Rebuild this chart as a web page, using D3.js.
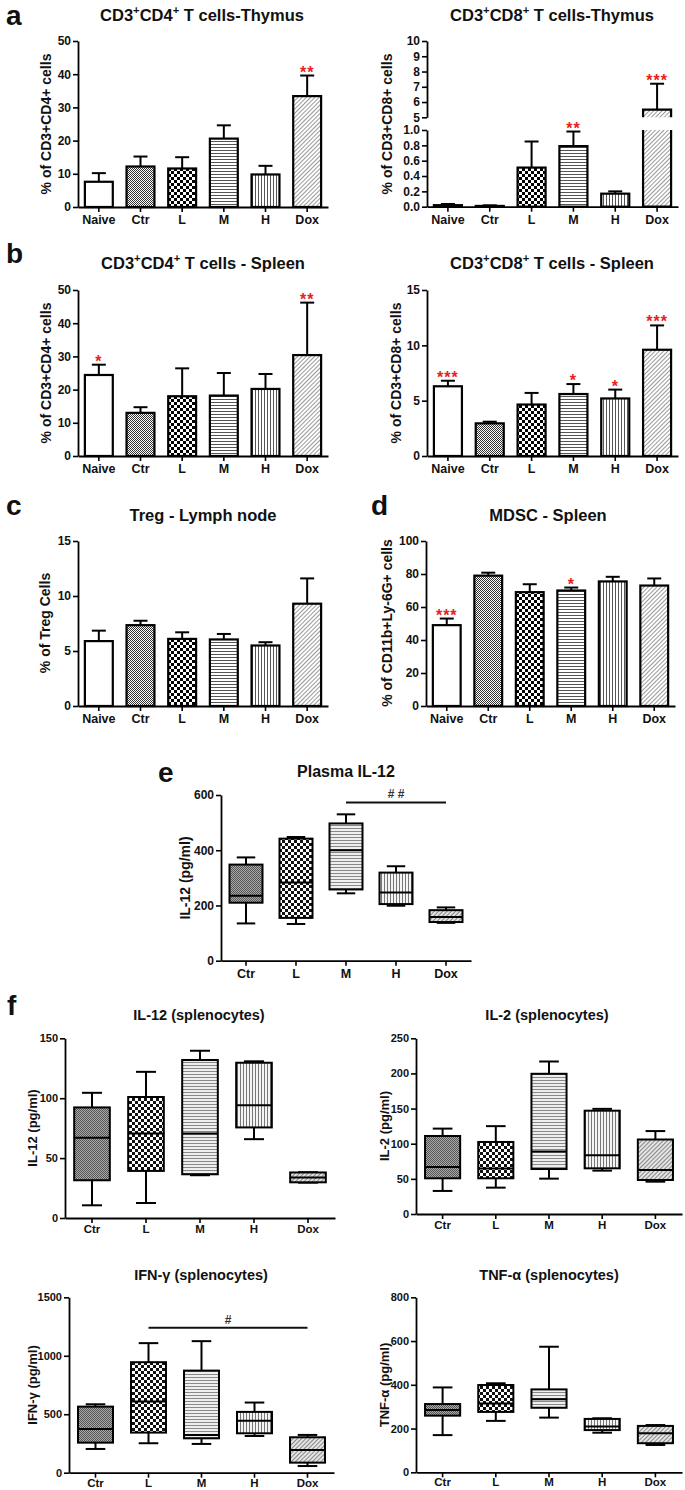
<!DOCTYPE html>
<html><head><meta charset="utf-8">
<script src="https://cdn.jsdelivr.net/npm/d3@7"></script>
<style>
body{margin:0;background:#fff}
svg{display:block}
text{font-family:"Liberation Sans",Arial,sans-serif;font-weight:bold;fill:#111}
</style></head><body>
<svg id="fig" width="685" height="1490"></svg>
<script>
// ---------------- DATA ----------------
const barGroups = ["Naive", "Ctr", "L", "M", "H", "Dox"];
const boxGroups = ["Ctr", "L", "M", "H", "Dox"];

// a: thymus
const thyCD4Mean = [7.6, 12.2, 11.6, 20.6, 9.8, 33.4];
const thyCD4Sem  = [2.6, 3.0, 3.4, 4.0, 2.6, 6.2];
const thyCD4Sig  = ["", "", "", "", "", "**"];
const thyCD8Mean = [0.02, 0.01, 0.51, 0.79, 0.17, 5.5];
const thyCD8Sem  = [0.015, 0.008, 0.34, 0.19, 0.03, 1.7];
const thyCD8Sig  = ["", "", "", "**", "", "***"];
// b: spleen
const splCD4Mean = [24.4, 13.0, 18.0, 18.2, 20.2, 30.4];
const splCD4Sem  = [3.1, 1.7, 8.4, 6.8, 4.5, 15.8];
const splCD4Sig  = ["*", "", "", "", "", "**"];
const splCD8Mean = [6.3, 2.95, 4.65, 5.6, 5.2, 9.6];
const splCD8Sem  = [0.5, 0.15, 1.05, 0.9, 0.8, 2.2];
const splCD8Sig  = ["***", "", "", "*", "*", "***"];
// c: Treg
const tregMean = [5.9, 7.35, 6.1, 6.05, 5.5, 9.3];
const tregSem  = [0.95, 0.4, 0.6, 0.5, 0.3, 2.3];
const tregSig  = ["", "", "", "", "", ""];
// d: MDSC
const mdscMean = [49, 79, 69, 70, 75.5, 73];
const mdscSem  = [4, 1.8, 4.8, 1.8, 2.8, 4.3];
const mdscSig  = ["***", "", "", "*", "", ""];

// tick values
const ticks0to50 = [0, 10, 20, 30, 40, 50];
const ticksLow = [0, 0.2, 0.4, 0.6, 0.8, 1.0];
const ticksHigh = [5, 6, 7, 8, 9, 10];
const ticks0to15 = [0, 5, 10, 15];
const ticks0to100 = [0, 20, 40, 60, 80, 100];
const ticks0to600 = [0, 200, 400, 600];
const ticks0to150 = [0, 50, 100, 150];
const ticks0to250 = [0, 50, 100, 150, 200, 250];
const ticks0to1500 = [0, 500, 1000, 1500];
const ticks0to800 = [0, 200, 400, 600, 800];

// box plots: [min, q1, median, q3, max]
const plasmaIL12 = [[135, 210, 235, 348, 374], [133, 155, 283, 442, 448], [244, 258, 400, 497, 530], [199, 205, 247, 319, 342], [137, 140, 158, 183, 193]];
const splIL12 = [[10.6, 31.5, 67, 92.3, 104.5], [12.5, 39.3, 70.5, 101, 122], [35.7, 36.5, 70.5, 131.9, 139.6], [65.8, 75.6, 94.2, 129.6, 130.8], [29.5, 29.8, 33.8, 38, 38.2]];
const splIL2 = [[32.8, 50.8, 67, 111, 121.5], [37.5, 50.8, 64.6, 102.5, 125], [50.3, 64, 88.8, 199.5, 217], [61.7, 65, 83.6, 147, 149.6], [46, 48.4, 62.7, 106, 118]];
const splIFNg = [[203, 257, 374, 565, 585], [252, 343, 608, 945, 1108], [246, 294, 323, 873, 1125], [314, 337, 445, 520, 600], [57, 86, 194, 303, 323]];
const splTNFa = [[170, 259, 285, 312, 388], [235, 276, 315, 399, 407], [250, 295, 334, 379, 574], [181, 193, 209, 244, 247], [125, 133, 178, 212, 216]];

// significance bars (value level, from group, to group, label)
const plasmaSig = {y: 573, from: "M", to: "Dox", label: "# #"};
const ifnSig = {y: 1240, from: "L", to: "Dox", label: "#"};

// ---------------- DRAW ----------------
const svg = d3.select("#fig");
const defs = svg.append("defs");

function pattern(id, w, h, bg, shapes, rot) {
  const p = defs.append("pattern").attr("id", id).attr("patternUnits", "userSpaceOnUse")
    .attr("width", w).attr("height", h);
  if (rot) p.attr("patternTransform", `rotate(${rot})`);
  p.append("rect").attr("width", w).attr("height", h).attr("fill", bg);
  shapes.forEach(s => p.append("rect").attr("x", s[0]).attr("y", s[1]).attr("width", s[2]).attr("height", s[3]).attr("fill", s[4]));
}
// bar patterns
pattern("pCtr", 2, 2, "#fff", [[0, 0, 1, 1, "#333"], [1, 1, 1, 1, "#333"]]);
pattern("pL", 6, 6, "#fff", [[0, 0, 3, 3, "#000"], [3, 3, 3, 3, "#000"]]);
pattern("pM", 3, 3, "#fff", [[0, 0, 3, 1, "#555"]]);
pattern("pH", 3, 3, "#fff", [[0, 0, 1, 3, "#555"]]);
pattern("pDox", 3, 3, "#fff", [[0, 0, 1, 3, "#999"]], 45);
// box patterns
pattern("bCtr", 2, 2, "#aaa", [[0, 0, 1, 1, "#555"], [1, 1, 1, 1, "#555"]]);
pattern("bL", 6, 6, "#fff", [[0, 0, 3, 3, "#111"], [3, 3, 3, 3, "#111"]]);
pattern("bM", 3, 3, "#eee", [[0, 0, 3, 1, "#888"]]);
pattern("bH", 3, 3, "#f4f4f4", [[0, 0, 1, 3, "#777"]]);
pattern("bDox", 3, 3, "#e4e4e4", [[0, 0, 1, 3, "#888"]], 45);

const barFill = {Naive: "#fff", Ctr: "url(#pCtr)", L: "url(#pL)", M: "url(#pM)", H: "url(#pH)", Dox: "url(#pDox)"};
const boxFill = {Ctr: "url(#bCtr)", L: "url(#bL)", M: "url(#bM)", H: "url(#bH)", Dox: "url(#bDox)"};

function styleAxis(g, fs) {
  g.select(".domain").attr("stroke", "#000").attr("stroke-width", 1.8);
  g.selectAll(".tick line").attr("stroke", "#000").attr("stroke-width", 1.6);
  g.selectAll(".tick text").attr("font-size", fs).attr("fill", "#111")
    .attr("font-family", '"Liberation Sans",Arial,sans-serif').attr("font-weight", "bold");
}

function addTitle(str, x, y, fs) {
  const t = svg.append("text").attr("x", x).attr("y", y).attr("text-anchor", "middle").attr("font-size", fs);
  const parts = str.split(/(\{[^}]*\})/).filter(s => s.length);
  let sup = false;
  parts.forEach(p => {
    if (p.startsWith("{")) {
      t.append("tspan").attr("font-size", fs * 0.68).attr("dy", -fs * 0.4).text(p.slice(1, -1));
      sup = true;
    } else {
      const ts = t.append("tspan").text(p);
      if (sup) { ts.attr("dy", fs * 0.4); sup = false; }
    }
  });
}
function addYLabel(str, x, y, fs) {
  svg.append("text").attr("transform", `translate(${x},${y}) rotate(-90)`)
    .attr("text-anchor", "middle").attr("dominant-baseline", "central")
    .attr("font-size", fs).text(str);
}
function addLetter(str, x, y) {
  svg.append("text").attr("x", x).attr("y", y).attr("font-size", 28).text(str);
}

function barPanel(c) {
  const g = svg.append("g");
  const x = d3.scaleBand().domain(barGroups).range([c.x0, c.x1]).paddingInner(0.33).paddingOuter(0.165);
  const y = d3.scaleLinear().domain(c.domain).range([c.yBot, c.yTop]);
  const bw = x.bandwidth();
  const rows = barGroups.map((k, i) => ({k, m: c.mean[i], e: c.mean[i] + c.sem[i], s: c.sig[i]}));
  g.selectAll("rect.bar").data(rows).join("rect").attr("class", "bar")
    .attr("x", d => x(d.k)).attr("width", bw)
    .attr("y", d => y(d.m)).attr("height", d => y(0) - y(d.m))
    .attr("fill", d => barFill[d.k]).attr("stroke", "#000").attr("stroke-width", 2.2);
  g.selectAll("line.err").data(rows).join("line").attr("class", "err")
    .attr("x1", d => x(d.k) + bw / 2).attr("x2", d => x(d.k) + bw / 2)
    .attr("y1", d => y(d.m)).attr("y2", d => y(d.e))
    .attr("stroke", "#000").attr("stroke-width", 2);
  g.selectAll("line.cap").data(rows).join("line").attr("class", "cap")
    .attr("x1", d => x(d.k) + bw / 2 - 7).attr("x2", d => x(d.k) + bw / 2 + 7)
    .attr("y1", d => y(d.e)).attr("y2", d => y(d.e))
    .attr("stroke", "#000").attr("stroke-width", 2);
  g.selectAll("text.sig").data(rows.filter(d => d.s)).join("text").attr("class", "sig")
    .attr("x", d => x(d.k) + bw / 2).attr("y", d => y(d.e) + 2)
    .attr("text-anchor", "middle").attr("font-size", 16).attr("letter-spacing", 1).style("fill", "#e8211b")
    .text(d => d.s);
  const ya = g.append("g").attr("transform", `translate(${c.x0},0)`)
    .call(d3.axisLeft(y).tickValues(c.ticks).tickSize(5).tickSizeOuter(0).tickPadding(2).tickFormat(d3.format("d")));
  styleAxis(ya, 12);
  const xa = g.append("g").attr("transform", `translate(0,${y(0)})`)
    .call(d3.axisBottom(x).tickSize(5).tickSizeOuter(0).tickPadding(3.5));
  styleAxis(xa, 12.5);
}

function brokenBarPanel(c) {
  const g = svg.append("g");
  const x = d3.scaleBand().domain(barGroups).range([c.x0, c.x1]).paddingInner(0.33).paddingOuter(0.165);
  const yLow = d3.scaleLinear().domain([0, 1]).range([c.yBot, c.yLowTop]);
  const yHigh = d3.scaleLinear().domain([5, 10]).range([c.yHighBot, c.yTop]);
  const bw = x.bandwidth();
  const yv = v => v <= 1 ? yLow(v) : yHigh(v);
  const rows = barGroups.map((k, i) => ({k, m: c.mean[i], e: c.mean[i] + c.sem[i], s: c.sig[i]}));
  rows.forEach(d => {
    const x0 = x(d.k), x1 = x0 + bw;
    if (d.m <= 1) {
      g.append("rect").attr("x", x0).attr("width", bw).attr("y", yLow(d.m)).attr("height", yLow(0) - yLow(d.m))
        .attr("fill", barFill[d.k]).attr("stroke", "#000").attr("stroke-width", 2.2);
    } else {
      g.append("rect").attr("x", x0).attr("width", bw).attr("y", yLow(1)).attr("height", yLow(0) - yLow(1))
        .attr("fill", barFill[d.k]);
      g.append("rect").attr("x", x0).attr("width", bw).attr("y", yHigh(d.m)).attr("height", yHigh(5) - yHigh(d.m))
        .attr("fill", barFill[d.k]);
      g.append("path").attr("d", `M${x0},${yLow(1)}V${yLow(0)}H${x1}V${yLow(1)}`)
        .attr("fill", "none").attr("stroke", "#000").attr("stroke-width", 2.2);
      g.append("path").attr("d", `M${x0},${yHigh(5)}V${yHigh(d.m)}H${x1}V${yHigh(5)}`)
        .attr("fill", "none").attr("stroke", "#000").attr("stroke-width", 2.2);
    }
    const cx = x0 + bw / 2;
    g.append("line").attr("x1", cx).attr("x2", cx).attr("y1", yv(d.m)).attr("y2", yv(d.e)).attr("stroke", "#000").attr("stroke-width", 2);
    g.append("line").attr("x1", cx - 7).attr("x2", cx + 7).attr("y1", yv(d.e)).attr("y2", yv(d.e)).attr("stroke", "#000").attr("stroke-width", 2);
    if (d.s) g.append("text").attr("x", cx).attr("y", yv(d.e) + 2).attr("text-anchor", "middle")
      .attr("font-size", 16).attr("letter-spacing", 1).style("fill", "#e8211b").text(d.s);
  });
  const ya1 = g.append("g").attr("transform", `translate(${c.x0},0)`)
    .call(d3.axisLeft(yLow).tickValues(ticksLow).tickSize(5).tickSizeOuter(0).tickPadding(2).tickFormat(d3.format(".1f")));
  styleAxis(ya1, 12);
  const ya2 = g.append("g").attr("transform", `translate(${c.x0},0)`)
    .call(d3.axisLeft(yHigh).tickValues(ticksHigh).tickSize(5).tickSizeOuter(0).tickPadding(2).tickFormat(d3.format("d")));
  styleAxis(ya2, 12);
  const xa = g.append("g").attr("transform", `translate(0,${yLow(0)})`)
    .call(d3.axisBottom(x).tickSize(5).tickSizeOuter(0).tickPadding(3.5));
  styleAxis(xa, 12.5);
}

function boxPanel(c) {
  const g = svg.append("g");
  const x = d3.scaleBand().domain(boxGroups).range([c.x0, c.x1]).paddingInner(0.34).paddingOuter(0.17);
  const y = d3.scaleLinear().domain(c.domain).range([c.yBot, c.yTop]);
  const bw = x.bandwidth();
  const rows = boxGroups.map((k, i) => ({k, v: c.data[i]}));
  rows.forEach(d => {
    const x0 = x(d.k), cx = x0 + bw / 2, cw = bw * 0.28;
    const [mn, q1, md, q3, mx] = d.v;
    g.append("line").attr("x1", cx).attr("x2", cx).attr("y1", y(mx)).attr("y2", y(q3)).attr("stroke", "#000").attr("stroke-width", 2);
    g.append("line").attr("x1", cx).attr("x2", cx).attr("y1", y(q1)).attr("y2", y(mn)).attr("stroke", "#000").attr("stroke-width", 2);
    g.append("line").attr("x1", cx - cw).attr("x2", cx + cw).attr("y1", y(mx)).attr("y2", y(mx)).attr("stroke", "#000").attr("stroke-width", 2);
    g.append("line").attr("x1", cx - cw).attr("x2", cx + cw).attr("y1", y(mn)).attr("y2", y(mn)).attr("stroke", "#000").attr("stroke-width", 2);
    g.append("rect").attr("x", x0).attr("width", bw).attr("y", y(q3)).attr("height", y(q1) - y(q3))
      .attr("fill", boxFill[d.k]).attr("stroke", "#000").attr("stroke-width", 2);
    g.append("line").attr("x1", x0).attr("x2", x0 + bw).attr("y1", y(md)).attr("y2", y(md)).attr("stroke", "#000").attr("stroke-width", 2);
  });
  if (c.sig) {
    const xa0 = x(c.sig.from) + bw / 2, xa1 = x(c.sig.to) + bw / 2;
    g.append("line").attr("x1", xa0).attr("x2", xa1).attr("y1", y(c.sig.y)).attr("y2", y(c.sig.y)).attr("stroke", "#111").attr("stroke-width", 2);
    g.append("text").attr("x", (xa0 + xa1) / 2).attr("y", y(c.sig.y) - 4).attr("text-anchor", "middle")
      .attr("font-size", 12).attr("font-weight", "normal").style("fill", "#333").text(c.sig.label);
  }
  const ya = g.append("g").attr("transform", `translate(${c.x0},0)`)
    .call(d3.axisLeft(y).tickValues(c.ticks).tickSize(5).tickSizeOuter(0).tickPadding(2).tickFormat(d3.format("d")));
  styleAxis(ya, c.tickFs);
  const xa = g.append("g").attr("transform", `translate(0,${y(0)})`)
    .call(d3.axisBottom(x).tickSize(5).tickSizeOuter(0).tickPadding(c.xPad));
  styleAxis(xa, c.xFs);
}

// ---- panel a ----
addLetter("a", 6, 25);
addTitle("CD3{+}CD4{+} T cells-Thymus", 202, 21, 16.5);
addYLabel("% of CD3+CD4+ cells", 46, 124, 14);
barPanel({x0: 78, x1: 328, yTop: 41, yBot: 207, domain: [0, 50], ticks: ticks0to50, mean: thyCD4Mean, sem: thyCD4Sem, sig: thyCD4Sig});

addTitle("CD3{+}CD8{+} T cells-Thymus", 552, 21, 16.5);
addYLabel("% of CD3+CD8+ cells", 387, 124, 14);
brokenBarPanel({x0: 427, x1: 678, yTop: 41, yHighBot: 117.3, yLowTop: 130, yBot: 206.7, mean: thyCD8Mean, sem: thyCD8Sem, sig: thyCD8Sig});

// ---- panel b ----
addLetter("b", 6, 263);
addTitle("CD3{+}CD4{+} T cells - Spleen", 203, 269, 16.5);
addYLabel("% of CD3+CD4+ cells", 46, 373, 14);
barPanel({x0: 78, x1: 328, yTop: 290, yBot: 456, domain: [0, 50], ticks: ticks0to50, mean: splCD4Mean, sem: splCD4Sem, sig: splCD4Sig});

addTitle("CD3{+}CD8{+} T cells - Spleen", 552, 269, 16.5);
addYLabel("% of CD3+CD8+ cells", 396, 373, 14);
barPanel({x0: 427, x1: 678, yTop: 290, yBot: 456, domain: [0, 15], ticks: ticks0to15, mean: splCD8Mean, sem: splCD8Sem, sig: splCD8Sig});

// ---- panel c ----
addLetter("c", 6, 515);
addTitle("Treg - Lymph node", 203, 521, 16.5);
addYLabel("% of Treg Cells", 45, 623, 14);
barPanel({x0: 78, x1: 328, yTop: 541, yBot: 706, domain: [0, 15], ticks: ticks0to15, mean: tregMean, sem: tregSem, sig: tregSig});

// ---- panel d ----
addLetter("d", 371, 515);
addTitle("MDSC - Spleen", 548, 521, 16.5);
addYLabel("% of CD11b+Ly-6G+ cells", 387, 623, 14);
barPanel({x0: 426, x1: 675, yTop: 541, yBot: 706, domain: [0, 100], ticks: ticks0to100, mean: mdscMean, sem: mdscSem, sig: mdscSig});

// ---- panel e ----
addLetter("e", 158, 782);
addTitle("Plasma IL-12", 346, 777, 16);
addYLabel("IL-12 (pg/ml)", 185, 878, 14);
boxPanel({x0: 221, x1: 471, yTop: 795, yBot: 960.7, domain: [0, 600], ticks: ticks0to600, data: plasmaIL12, sig: plasmaSig, tickFs: 12, xFs: 12.5, xPad: 3});

// ---- panel f ----
addLetter("f", 7, 1015);
addTitle("IL-12 (splenocytes)", 199, 1020, 14.5);
addYLabel("IL-12 (pg/ml)", 32, 1128, 13);
boxPanel({x0: 65, x1: 335, yTop: 1038.3, yBot: 1218, domain: [0, 150], ticks: ticks0to150, data: splIL12, tickFs: 11, xFs: 11.5, xPad: 1.5});

addTitle("IL-2 (splenocytes)", 547, 1020, 14.5);
addYLabel("IL-2 (pg/ml)", 384, 1126, 13);
boxPanel({x0: 416, x1: 682, yTop: 1038.3, yBot: 1214, domain: [0, 250], ticks: ticks0to250, data: splIL2, tickFs: 11, xFs: 11.5, xPad: 1.5});

addTitle("IFN-γ (splenocytes)", 201, 1280, 14.5);
addYLabel("IFN-γ (pg/ml)", 32, 1385, 13);
boxPanel({x0: 69, x1: 334, yTop: 1297.3, yBot: 1472.7, domain: [0, 1500], ticks: ticks0to1500, data: splIFNg, sig: ifnSig, tickFs: 11, xFs: 11.5, xPad: 1});

addTitle("TNF-α (splenocytes)", 549, 1280, 14.5);
addYLabel("TNF-α (pg/ml)", 384, 1385, 13);
boxPanel({x0: 416, x1: 682, yTop: 1297.3, yBot: 1472.3, domain: [0, 800], ticks: ticks0to800, data: splTNFa, tickFs: 11, xFs: 11.5, xPad: 1});
</script>
</body></html>
